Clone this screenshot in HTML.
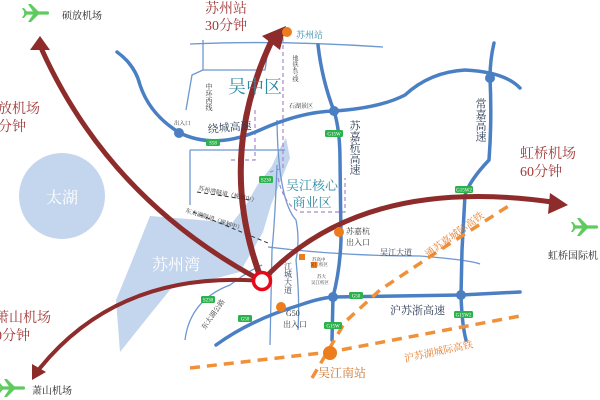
<!DOCTYPE html>
<html><head><meta charset="utf-8"><style>
html,body{margin:0;padding:0;background:#fff;}
svg{display:block;}
text{font-family:"Liberation Serif","Noto Serif CJK SC","Noto Sans CJK SC",serif;}
</style></head><body>
<svg width="600" height="400" viewBox="0 0 600 400" xmlns="http://www.w3.org/2000/svg">
<defs>
<g id="plane"><path d="M-2,0 L-8,-9 L-5,-9 L4,0 L-5,9 L-8,9 Z M-11,0 L-14,-5 L-12,-5 L-8,0 L-12,5 L-14,5Z" fill="#5ecb5e"/><rect x="-12" y="-1.6" width="25" height="3.2" rx="1.6" fill="#5ecb5e"/></g>
</defs>
<circle cx="62" cy="196" r="43" fill="#c4d5ee"/>
<text x="62" y="203" font-size="16" fill="#fff" text-anchor="middle">太湖</text>
<path d="M150,216 L200,220 L232,223 L246,205 L258,184 L272,166 L280,148 L286,138 L290,158 L281,180 L271,205 L263,232 L251,253 L240,272 L205,281 L174,285 L152,312 L120,352 L116,300 L130,266 Z" fill="#c4d5ee"/>
<text x="176" y="270" font-size="16" fill="#fff" text-anchor="middle">苏州湾</text>
<g stroke="#6e98d0" stroke-width="1.3" fill="none">
<path d="M190,44 Q280,40 383,47"/>
<path d="M203,40 L203,70 L265,70 Q268,52 268,42"/>
<path d="M203,70 L192,75 L186,110"/>
<path d="M190,150 L285,150"/>
<path d="M190,150 L190,205"/>
<path d="M277,165 Q275,220 272,250 L270,345"/>
<path d="M277,120 Q278,200 296,220 Q300,240 296,260 Q300,300 298,330"/>
<path d="M185,340 Q190,300 230,285 Q250,270 262,265"/>
<path d="M268,247 Q340,256 420,256 Q470,260 480,264"/>
</g>
<g stroke="#a78ac9" stroke-width="1.2" fill="none" stroke-dasharray="4,3">
<path d="M283,38 L283,168 L270,172"/>
<path d="M255,110 L255,160 L230,160"/>
<path d="M278,178 Q284,205 300,212 L345,212 L345,178"/>
</g>
<g stroke="#333" stroke-width="1" fill="none" stroke-dasharray="4,3">
<path d="M197,192 L250,200"/>
<path d="M193,212 L268,243"/>
</g>
<g stroke="#4a7fc4" stroke-width="3.5" fill="none" stroke-linecap="round">
<path d="M117,52 Q135,65 140,85 Q150,115 180,133 Q215,150 260,130 Q300,112 334,111 Q380,108 405,95 Q430,72 465,70 Q505,72 520,88"/>
<path d="M318,45 Q322,80 334,111 Q340,130 340,160 L341,240 Q340,270 333,297 L332,340"/>
<path d="M494,43 Q490,60 490,78 Q492,120 489,160 Q470,180 465,195 L462,250 L461,295 Q462,325 466,340"/>
<path d="M216,345 Q250,320 300,305 Q320,298 333,297 L461,295 L520,292"/>
</g>
<g fill="#4a7fc4">
<circle cx="179" cy="133" r="5"/><circle cx="334" cy="111" r="5"/><circle cx="490" cy="78" r="5"/><circle cx="333" cy="297" r="5"/><circle cx="461" cy="295" r="5"/>
</g>
<g stroke="#f0913a" stroke-width="3.5" fill="none" stroke-dasharray="10,7">
<path d="M312,378 L345,322 L380,290 L440,250 L510,205"/>
<path d="M190,368 L330,352 L520,316"/>
</g>
<g font-family="Liberation Sans,sans-serif" font-size="5" fill="#fff" text-anchor="middle">
<rect x="206" y="139" width="14" height="7" rx="1.5" fill="#2bb24c"/><text x="213" y="144.5">S58</text>
<rect x="259" y="176" width="14" height="7" rx="1.5" fill="#2bb24c"/><text x="266" y="181.5">S230</text>
<rect x="325" y="130" width="18" height="7" rx="1.5" fill="#2bb24c"/><text x="334" y="135.5">G15W</text>
<rect x="455" y="186" width="18" height="7" rx="1.5" fill="#2bb24c"/><text x="464" y="191.5">G15W2</text>
<rect x="349" y="292" width="14" height="7" rx="1.5" fill="#2bb24c"/><text x="356" y="297.5">G50</text>
<rect x="324" y="322" width="18" height="7" rx="1.5" fill="#2bb24c"/><text x="333" y="327.5">G15W</text>
<rect x="454" y="311" width="19" height="7" rx="1.5" fill="#2bb24c"/><text x="463.5" y="316.5">G15W2</text>
<rect x="201" y="296" width="14" height="7" rx="1.5" fill="#2bb24c"/><text x="208" y="301.5">S230</text>
<rect x="238" y="315" width="14" height="7" rx="1.5" fill="#2bb24c"/><text x="245" y="320.5">G50</text>
</g>
<g stroke="#8e2b2b" fill="none" stroke-linecap="round">
<path d="M262,281 Q215,160 272,40" stroke-width="6"/>
<path d="M262,281 Q110,200 42,50" stroke-width="5"/>
<path d="M262,281 Q120,270 40,368" stroke-width="4"/>
<path d="M262,281 Q360,175 552,202" stroke-width="5"/>
</g>
<g fill="#8e2b2b">
<polygon points="286,26 262,36 280,50"/>
<polygon points="40,36 30,50 50,50"/>
<polygon points="32,380 32,364 46,372"/>
<polygon points="568,205 550,193 548,214"/>
</g>
<circle cx="262" cy="281" r="8.5" fill="#fff" stroke="#e5091a" stroke-width="3.5"/>
<g fill="#ec7c1c">
<circle cx="287" cy="32" r="5"/><circle cx="339" cy="232" r="5"/><circle cx="281" cy="307" r="5"/><circle cx="330" cy="353" r="7"/>
<rect x="299" y="254" width="6" height="6"/><rect x="311" y="262" width="6" height="6"/>
</g>
<g fill="#2e8aa5">
<text x="255" y="93" font-size="18" text-anchor="middle">吴中区</text>
<text x="312" y="190" font-size="13" text-anchor="middle">吴江核心</text>
<text x="312" y="207" font-size="13" text-anchor="middle">商业区</text>
<text x="296" y="38" font-size="9">苏州站</text>
</g>
<g fill="#2b3a55" font-size="11">
<text x="208" y="133" transform="rotate(-5 208 133)">绕城高速</text>
<text x="354" y="120" writing-mode="tb">苏嘉杭高速</text>
<text x="480" y="98" writing-mode="tb">常嘉高速</text>
<text x="390" y="314">沪苏浙高速</text>
<text x="380" y="255" font-size="8">吴江大道</text>
<text x="288" y="262" font-size="8" writing-mode="tb">江城大道</text>
</g>
<g fill="#333" font-size="7">
<text x="209" y="83" writing-mode="tb">中环西线</text>
<text x="294" y="55" writing-mode="tb" font-size="6">地铁4号线</text>
<text x="289" y="108" font-size="6">石湖景区</text>
<text x="174" y="125" font-size="5.5">出入口</text>
<text x="198" y="190" font-size="6" transform="rotate(12 198 190)">苏州湾隧道（规划中）</text>
<text x="185" y="212" font-size="6" transform="rotate(18 185 212)">东太湖隧道（规划中）</text>
<text x="205" y="330" font-size="7" transform="rotate(-55 205 330)">东太湖公路</text>
<text x="346" y="234" font-size="8">苏嘉杭</text>
<text x="346" y="245" font-size="8">出入口</text>
<text x="286" y="316" font-size="8">G50</text>
<text x="283" y="327" font-size="8">出入口</text>
<text x="312" y="261" font-size="4.5">苏高中</text>
<text x="310" y="266" font-size="4.5">吴江校区</text>
<text x="317" y="278" font-size="4.5">苏大</text>
<text x="311" y="284" font-size="4.5">吴江校区</text>
</g>
<g fill="#e87c2a" font-size="10">
<text x="428" y="258" transform="rotate(-36 428 258)">通苏嘉城际高铁</text>
<text x="405" y="362" transform="rotate(-12 405 362)">沪苏湖城际高铁</text>
<text x="318" y="377" font-size="12" fill="#c9702a">吴江南站</text>
</g>
<g fill="#a23a3a" font-size="14">
<text x="205" y="13">苏州站</text>
<text x="205" y="30">30分钟</text>
<text x="-2" y="113">放机场</text>
<text x="-2" y="131">分钟</text>
<text x="520" y="158">虹桥机场</text>
<text x="520" y="176">60分钟</text>
<text x="-5" y="322">萧山机场</text>
<text x="-5" y="340">0分钟</text>
</g>
<g fill="#222" font-size="10">
<text x="62" y="19">硕放机场</text>
<text x="32" y="394">萧山机场</text>
<text x="548" y="259">虹桥国际机</text>
</g>
<use href="#plane" x="36" y="13"/>
<use href="#plane" x="12" y="388"/>
<use href="#plane" x="585" y="227"/>
</svg>
</body></html>
